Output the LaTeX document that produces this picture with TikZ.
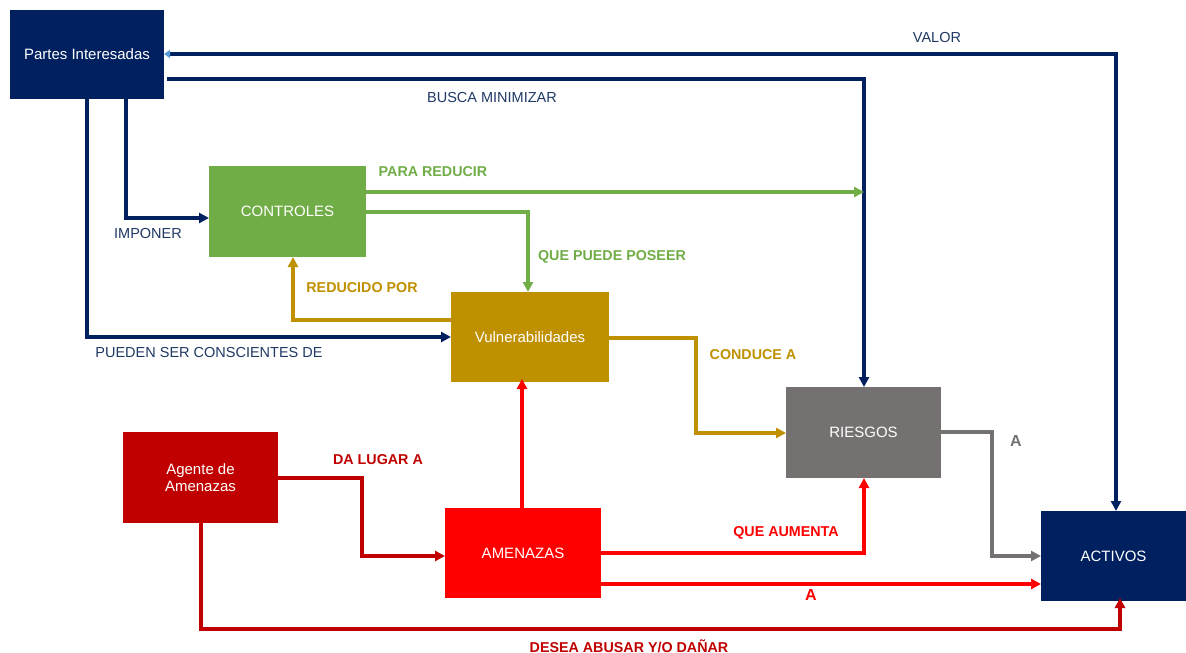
\documentclass[tikz,border=0pt]{standalone}
\usepackage{fontspec}
\setmainfont{Liberation Sans}
\usetikzlibrary{arrows.meta}
\definecolor{navy}{HTML}{002060}
\definecolor{navytxt}{HTML}{1F3864}
\definecolor{ctrlgreen}{HTML}{70AD47}
\definecolor{gold}{HTML}{BF9000}
\definecolor{riskgray}{HTML}{767171}
\definecolor{darkred}{HTML}{C00000}
\definecolor{brightred}{HTML}{FF0000}
\definecolor{tipblue}{HTML}{5B9BD5}
\begin{document}
\begin{tikzpicture}[x=1pt,y=-1pt,
  box/.style={fill=#1, draw=none, text=white, inner sep=0pt, outer sep=0pt,
    font=\fontsize{15}{17}\selectfont, align=center},
  conn/.style={draw=#1, line width=3.4pt, -{Triangle[length=10pt,width=10pt]}},
  lbl/.style={text=#1, font=\fontsize{14.5}{16}\selectfont, inner sep=0pt},
  blbl/.style={text=#1, font=\bfseries\fontsize{14.3}{16}\selectfont, inner sep=0pt},
]
\useasboundingbox (0,0) rectangle (1186,653);

% nodes
\node[box=navy, minimum width=154pt, minimum height=89pt] (partes) at (87,54.5) {Partes Interesadas};
\node[box=ctrlgreen, minimum width=157pt, minimum height=91pt] (ctrl) at (287.5,211.5) {CONTROLES};
\node[box=gold, minimum width=158pt, minimum height=90pt] (vuln) at (530,337) {Vulnerabilidades};
\node[box=riskgray, minimum width=155pt, minimum height=91pt] (riesgos) at (863.5,432.5) {RIESGOS};
\node[box=darkred, minimum width=155pt, minimum height=91pt] (agente) at (200.5,477.5) {Agente de\\Amenazas};
\node[box=brightred, minimum width=156pt, minimum height=90pt] (amen) at (523,553) {AMENAZAS};
\node[box=navy, minimum width=145pt, minimum height=90pt] (activos) at (1113.5,556) {ACTIVOS};

% VALOR
\draw[draw=navy, line width=3.4pt, {Triangle[length=6pt,width=8pt,color=tipblue]}-{Triangle[length=10pt,width=10pt]}]
  (partes.east |- 0,54) -| ([xshift=2.5pt]activos.north);
% BUSCA MINIMIZAR
\coordinate (bm) at (864,79);
\draw[conn=navy] ([xshift=3pt]partes.east |- bm) -| (riesgos.north -| bm);
% IMPONER
\draw[conn=navy] (partes.south -| 126,0) |- (ctrl.west |- 0,218);
% PUEDEN SER CONSCIENTES DE
\draw[conn=navy] (partes.south -| 87,0) |- (vuln.west |- 0,337);
% PARA REDUCIR
\coordinate (pr) at (864,192);
\draw[conn=ctrlgreen] (ctrl.east |- pr) -- (pr);
% QUE PUEDE POSEER
\draw[conn=ctrlgreen] (ctrl.east |- 0,212) -| (vuln.north -| 528,0);
% REDUCIDO POR
\draw[conn=gold] (vuln.west |- 0,320) -| (ctrl.south -| 293,0);
% CONDUCE A
\draw[conn=gold] (vuln.east |- 0,338) -| (696,385) |- (riesgos.west |- 0,433);
% A (gray)
\draw[conn=riskgray] (riesgos.east |- 0,432) -| (992,500) |- (activos.west |- 0,556);
% AMENAZAS -> Vulnerabilidades
\draw[conn=brightred] ([yshift=-3pt]amen.north -| 522,0) -- ([yshift=3pt]vuln.south -| 522,0);
% DA LUGAR A
\draw[conn=darkred] (agente.east |- 0,478) -| (362,520) |- (amen.west |- 0,556);
% QUE AUMENTA
\draw[conn=brightred] (amen.east |- 0,553) -| (riesgos.south -| 864,0);
% A (red)
\draw[conn=brightred] (amen.east |- 0,584) -- (activos.west |- 0,584);
% DESEA ABUSAR
\draw[conn=darkred] ([yshift=4pt]agente.south -| 201,0) |- (660,629) -| ([yshift=3pt]activos.south -| 1120,0);

% labels
\node[lbl=navytxt] (lvalor) at (937,38) {VALOR};
\node[lbl=navytxt] (lbm) at (492,98) {BUSCA MINIMIZAR};
\node[lbl=navytxt] (limp) at (148,234) {IMPONER};
\node[lbl=navytxt] (lpsc) at (209,353) {PUEDEN SER CONSCIENTES DE};
\node[blbl=ctrlgreen] (lpr) at (433,172) {PARA REDUCIR};
\node[blbl=ctrlgreen] (lqpp) at (612,257) {QUE PUEDE POSEER};
\node[blbl=gold] (lrp) at (362,288) {REDUCIDO POR};
\node[blbl=gold] (lca) at (753,355) {CONDUCE A};
\node[text=riskgray, font=\bfseries\fontsize{16}{18}\selectfont, inner sep=0pt] (la1) at (1016,441) {A};
\node[blbl=darkred] (ldla) at (378,460) {DA LUGAR A};
\node[blbl=brightred] (lqa) at (786,533) {QUE AUMENTA};
\node[text=brightred, font=\bfseries\fontsize{16}{18}\selectfont, inner sep=0pt] (la2) at (811,595) {A};
\node[blbl=darkred] (lda) at (629,646) {DESEA ABUSAR Y/O DAÑAR};
\end{tikzpicture}
\end{document}
